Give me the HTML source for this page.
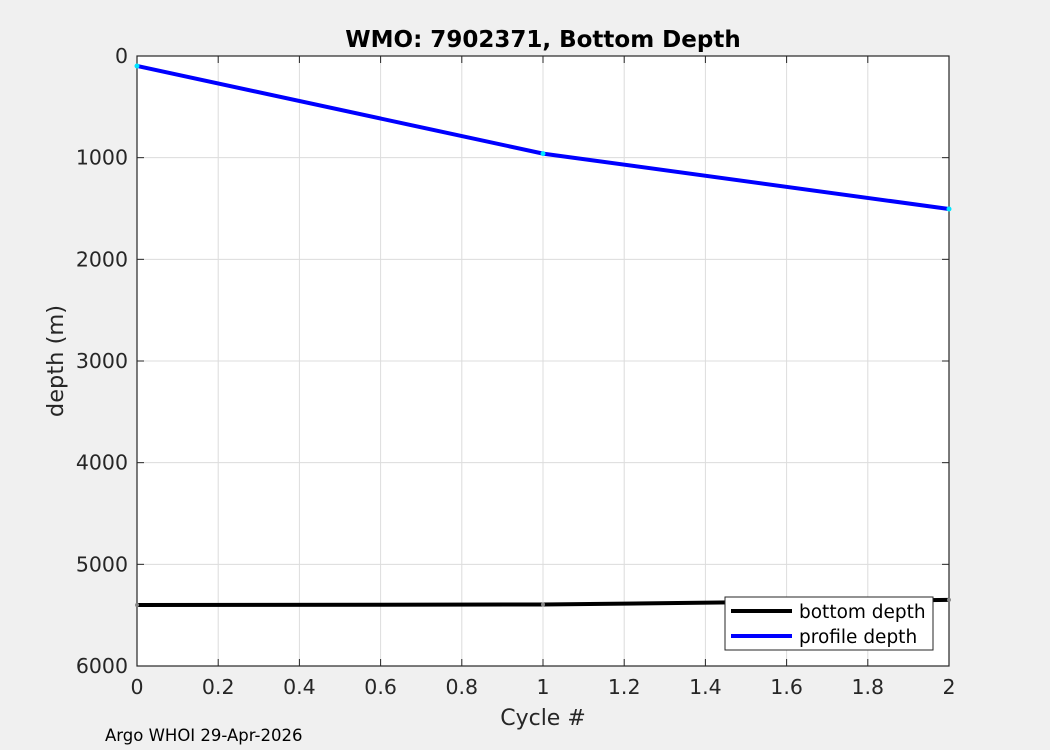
<!DOCTYPE html>
<html><head><meta charset="utf-8"><style>
body{margin:0;background:#f0f0f0;}
svg{display:block;font-family:"DejaVu Sans","Liberation Sans",sans-serif;}
</style></head><body>
<svg id="c" width="1050" height="750"></svg>
<script>
const cycles=[0,1,2];
const profileDepth=[98,960,1505];
const bottomDepth=[5400,5395,5350];
const xTicks=[0,0.2,0.4,0.6,0.8,1,1.2,1.4,1.6,1.8,2];
const xTickLabels=["0","0.2","0.4","0.6","0.8","1","1.2","1.4","1.6","1.8","2"];
const yTicks=[0,1000,2000,3000,4000,5000,6000];
const yTickLabels=["0","1000","2000","3000","4000","5000","6000"];
const L=137,R=949,T=56,B=666;
const xs=v=>L+(v-0)/(2-0)*(R-L);
const ys=v=>T+v/6000*(B-T);
const svg=document.getElementById('c');
const NS='http://www.w3.org/2000/svg';
function el(tag,attrs,parent){const e=document.createElementNS(NS,tag);for(const k in attrs)e.setAttribute(k,attrs[k]);(parent||svg).appendChild(e);return e;}
const bg=el('rect',{x:L,y:T,width:R-L,height:B-T,fill:'#fff'});


xTicks.forEach((t,i)=>{
 const g=el('line',{x1:xs(t),x2:xs(t),y1:T,y2:B,stroke:'#dcdcdc','stroke-width':1});
 
 
 el('line',{x1:xs(t),x2:xs(t),y1:B,y2:B-7,stroke:'#262626'});
 el('line',{x1:xs(t),x2:xs(t),y1:T,y2:T+7,stroke:'#262626'});
 const tx=el('text',{x:xs(t),y:B+28,'text-anchor':'middle','font-size':20.5,fill:'#262626'});
 tx.textContent=xTickLabels[i];
 
 
});
yTicks.forEach((t,i)=>{
 const g=el('line',{x1:L,x2:R,y1:ys(t),y2:ys(t),stroke:'#dcdcdc','stroke-width':1});
 
 
 el('line',{x1:L,x2:L+7,y1:ys(t),y2:ys(t),stroke:'#262626'});
 el('line',{x1:R,x2:R-7,y1:ys(t),y2:ys(t),stroke:'#262626'});
 const tx=el('text',{x:L-9,y:ys(t)+7,'text-anchor':'end','font-size':20.5,fill:'#262626'});
 tx.textContent=yTickLabels[i];
 
 
});
const box=el('rect',{x:L,y:T,width:R-L,height:B-T,fill:'none',stroke:'#262626','stroke-width':1.2});


const bl=el('polyline',{points:cycles.map((c,i)=>xs(c)+','+ys(bottomDepth[i])).join(' '),fill:'none',stroke:'#000','stroke-width':4});


const pl=el('polyline',{points:cycles.map((c,i)=>xs(c)+','+ys(profileDepth[i])).join(' '),fill:'none',stroke:'#0000ff','stroke-width':4});


cycles.forEach((c,i)=>{
 const p=el('circle',{cx:xs(c),cy:ys(profileDepth[i]),r:2.5,fill:'#00e5ff'});
 
 
 const q=el('circle',{cx:xs(c),cy:ys(bottomDepth[i]),r:2,fill:'#888'});
 
 
});
const lg=el('g',{});


el('rect',{x:725,y:597,width:208,height:53,fill:'#fff',stroke:'#262626','stroke-width':1},lg);
el('line',{x1:731,x2:792,y1:611,y2:611,stroke:'#000','stroke-width':4},lg);
el('line',{x1:731,x2:792,y1:636,y2:636,stroke:'#0000ff','stroke-width':4},lg);
const l1=el('text',{x:799,y:618,'font-size':18.5,fill:'#000'},lg);l1.textContent='bottom depth';
const l2=el('text',{x:799,y:643,'font-size':18.5,fill:'#000'},lg);l2.textContent='profile depth';
const title=el('text',{x:543,y:47,'text-anchor':'middle','font-size':23,'font-weight':'bold',fill:'#000'});
title.textContent='WMO: 7902371, Bottom Depth';


const xt=el('text',{x:543,y:725,'text-anchor':'middle','font-size':22,fill:'#262626'});
xt.textContent='Cycle #';


const yt=el('text',{x:0,y:0,'text-anchor':'middle','font-size':22.5,fill:'#262626',transform:'translate(63,361) rotate(-90)'});
yt.textContent='depth (m)';


const ft=el('text',{x:105,y:741,'font-size':16.5,fill:'#000'});
ft.textContent='Argo WHOI 29-Apr-2026';


</script>
</body></html>
